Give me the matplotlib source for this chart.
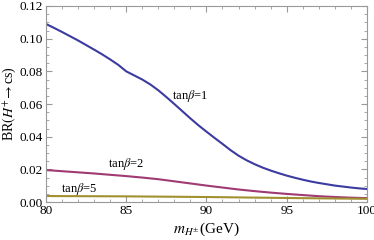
import numpy as np
import matplotlib
matplotlib.use("Agg")
import matplotlib.pyplot as plt
from matplotlib.ticker import MultipleLocator, FormatStrFormatter

plt.rcParams["font.family"] = "Liberation Serif"
plt.rcParams["mathtext.fontset"] = "stix"

# charged Higgs mass (GeV), half-GeV steps
m1 = [80.0, 80.5, 81.0, 81.5, 82.0, 82.5, 83.0, 83.5, 84.0, 84.5, 85.0, 85.5,
      86.0, 86.5, 87.0, 87.5, 88.0, 88.5, 89.0, 89.5, 90.0, 90.5, 91.0, 91.5,
      92.0, 92.5, 93.0, 93.5, 94.0, 94.5, 95.0, 95.5, 96.0, 96.5, 97.0, 97.5,
      98.0, 98.5, 99.0, 99.5, 100.0]
# tan(beta) = 1
br1 = [0.1090, 0.1066, 0.1041, 0.1015, 0.0989, 0.0961, 0.0933, 0.0904, 0.0873,
       0.0840, 0.0800, 0.0775, 0.0750, 0.0720, 0.0684, 0.0643, 0.0600, 0.0556,
       0.0512, 0.0470, 0.0431, 0.0393, 0.0356, 0.0318, 0.0284, 0.0256, 0.0232,
       0.0211, 0.0193, 0.0177, 0.0162, 0.0149, 0.0137, 0.0126, 0.0117, 0.0109,
       0.0101, 0.0095, 0.0089, 0.0084, 0.0080]

# tan(beta) = 2
m2 = [80, 81, 82, 83, 84, 85, 86, 87, 88, 89, 90, 91, 92, 93, 94, 95, 96, 97,
      98, 99, 100]
br2 = [0.0196, 0.0189, 0.0182, 0.0175, 0.0167, 0.0159, 0.0150, 0.0140, 0.0127,
       0.0114, 0.0101, 0.0089, 0.0077, 0.0067, 0.0058, 0.0050, 0.0043, 0.0036,
       0.0031, 0.0027, 0.0024]

# tan(beta) = 5
m5 = [80, 85, 90, 95, 100]
br5 = [0.0037, 0.0035, 0.0031, 0.0025, 0.0020]

series = [(m1, br1, "#3b3ba0"), (m2, br2, "#a03a72"), (m5, br5, "#a09030")]
labels = [("tan$\\beta$=1", 87.85, 0.0649),
          ("tan$\\beta$=2", 83.86, 0.0233),
          ("tan$\\beta$=5", 80.92, 0.0080)]

fig = plt.figure(figsize=(3.74, 2.4), dpi=100)
ax = fig.add_axes([0.123, 0.158, 0.858, 0.817])

for m, br, c in series:
    ax.plot(m, br, color=c, linewidth=1.5)

for text, x, y in labels:
    ax.text(x, y, text, fontsize=9, va="center", ha="left")

ax.set_xlim(80, 100)
ax.set_ylim(0, 0.12)
ax.xaxis.set_major_locator(MultipleLocator(5))
ax.xaxis.set_minor_locator(MultipleLocator(1))
ax.yaxis.set_major_locator(MultipleLocator(0.02))
ax.yaxis.set_minor_locator(MultipleLocator(0.005))
ax.yaxis.set_major_formatter(FormatStrFormatter("%.2f"))

ax.tick_params(which="both", direction="in", top=True, right=True,
               color="#999999", labelsize=9.5, pad=2)
ax.tick_params(which="major", length=4.5)
ax.tick_params(which="minor", length=2.5)
for s in ax.spines.values():
    s.set_color("#999999")
    s.set_linewidth(0.8)

ax.set_xlabel("$m_{H^{\\pm}}$(GeV)", fontsize=11, labelpad=3)
ax.set_ylabel("BR$(H^{+}\\!\\rightarrow$cs)", fontsize=10, labelpad=1)

plt.savefig("out.png", dpi=100)
